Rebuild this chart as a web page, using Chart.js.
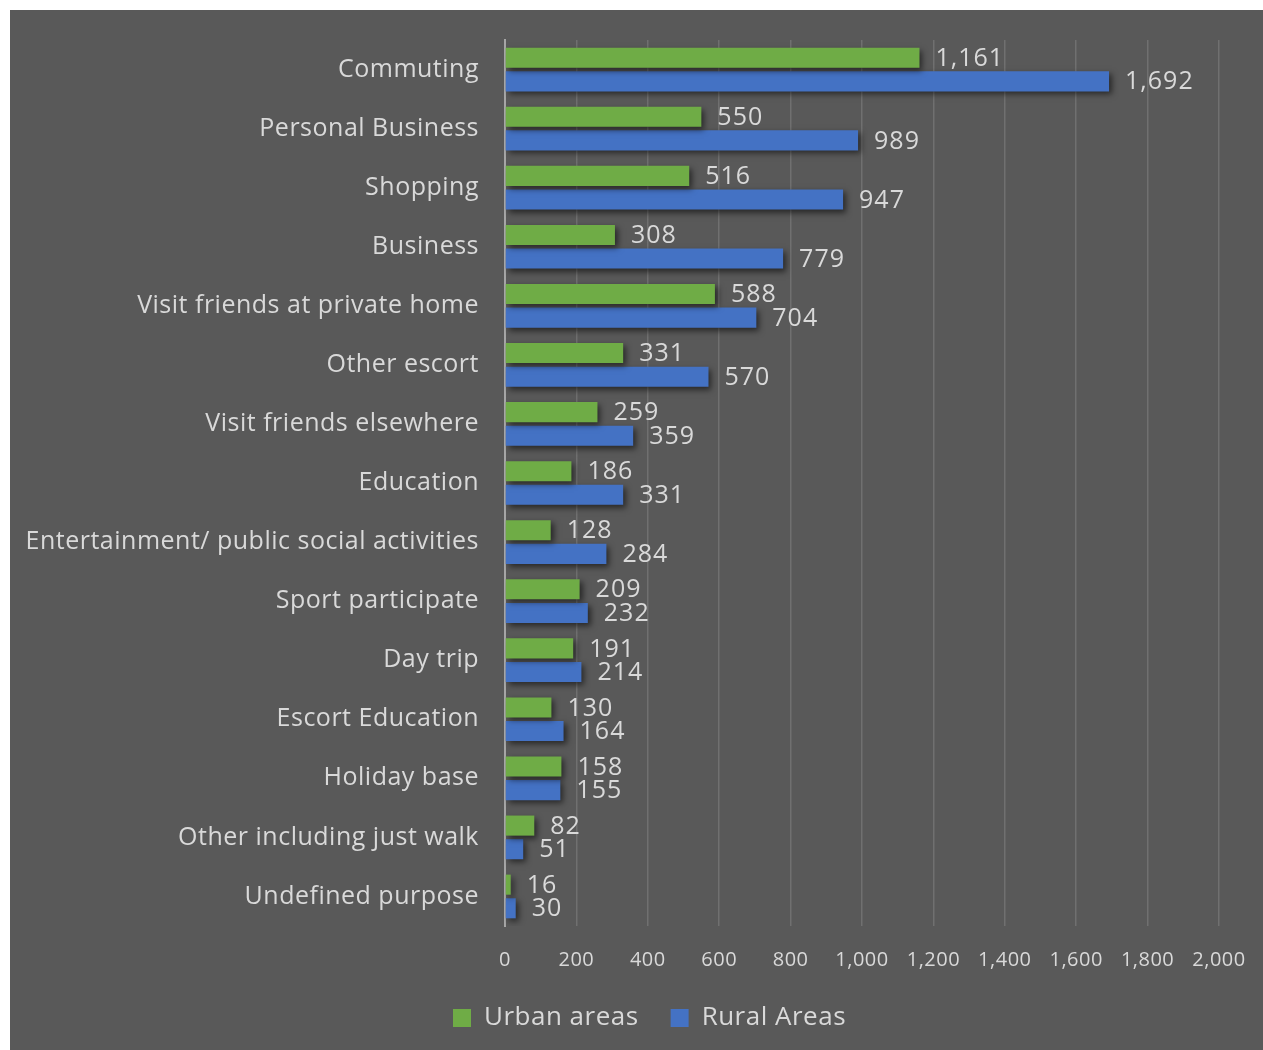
<!DOCTYPE html>
<html lang="en">
<head>
    <meta charset="UTF-8">
    <title>Trips by Purpose: Urban vs Rural</title>
    <style>
        body {
            margin: 0;
            padding: 0;
            background-color: #ffffff;
        }

        .chart-container {
            position: absolute;
            left: 10px;
            top: 10px;
            width: 1253px;
            height: 1040px;
            background-color: #595959;
        }
    </style>
    <script src="https://cdn.jsdelivr.net/npm/chart.js"></script>
</head>
<body>
    <div class="chart-container">
        <canvas id="purposeChart"></canvas>
    </div>
    <script>
        const purposes = [
            'Commuting',
            'Personal Business',
            'Shopping',
            'Business',
            'Visit friends at private home',
            'Other escort',
            'Visit friends elsewhere',
            'Education',
            'Entertainment/ public social activities',
            'Sport participate',
            'Day trip',
            'Escort Education',
            'Holiday base',
            'Other including just walk',
            'Undefined purpose'
        ];
        const urbanTrips = [1161, 550, 516, 308, 588, 331, 259, 186, 128, 209, 191, 130, 158, 82, 16];
        const ruralTrips = [1692, 989, 947, 779, 704, 570, 359, 331, 284, 232, 214, 164, 155, 51, 30];
        const axisMax = 2000;
        const axisStep = 200;

        const textColor = '#d9d9d9';
        const fontFamily = '"Open Sans", "Noto Sans", sans-serif';

        // slightly looser tracking for every text drawn on the canvas
        const wideText = {
            id: 'wideText',
            beforeLayout(chart) { chart.ctx.letterSpacing = '0.5px'; },
            beforeDraw(chart) { chart.ctx.letterSpacing = '0.5px'; }
        };

        // nudge the legend row a bit to the right of the canvas centre
        const legendShift = {
            id: 'legendShift',
            afterLayout(chart) {
                if (chart.legend) chart.legend.left += 70;
            }
        };

        // soft drop shadow under the bars
        const barShadow = {
            id: 'barShadow',
            beforeDatasetsDraw(chart) {
                const ctx = chart.ctx;
                ctx.save();
                ctx.shadowColor = 'rgba(0, 0, 0, 0.55)';
                ctx.shadowBlur = 6;
                ctx.shadowOffsetX = 3;
                ctx.shadowOffsetY = 3;
            },
            afterDatasetsDraw(chart) {
                chart.ctx.restore();
            }
        };

        // value printed just past the end of each bar
        const valueLabels = {
            id: 'valueLabels',
            afterDraw(chart) {
                const ctx = chart.ctx;
                ctx.save();
                ctx.font = '25px ' + fontFamily;
                ctx.letterSpacing = '1px';
                ctx.fillStyle = textColor;
                ctx.textAlign = 'left';
                ctx.textBaseline = 'middle';
                chart.data.datasets.forEach((ds, i) => {
                    chart.getDatasetMeta(i).data.forEach((bar, j) => {
                        ctx.fillText(ds.data[j].toLocaleString('en-US'), bar.x + 16, bar.y + 1);
                    });
                });
                ctx.restore();
            }
        };

        new Chart(document.getElementById('purposeChart'), {
            type: 'bar',
            data: {
                labels: purposes,
                datasets: [
                    {
                        label: 'Urban areas',
                        data: urbanTrips,
                        backgroundColor: '#6fac46',
                        categoryPercentage: 0.8,
                        barPercentage: 0.85
                    },
                    {
                        label: 'Rural Areas',
                        data: ruralTrips,
                        backgroundColor: '#4472c4',
                        categoryPercentage: 0.8,
                        barPercentage: 0.85
                    }
                ]
            },
            options: {
                indexAxis: 'y',
                responsive: true,
                maintainAspectRatio: false,
                animation: false,
                layout: {
                    padding: { top: 30, right: 44, bottom: 9, left: 0 }
                },
                scales: {
                    x: {
                        min: 0,
                        max: axisMax,
                        ticks: {
                            stepSize: axisStep,
                            color: textColor,
                            padding: 22,
                            font: { family: fontFamily, size: 20 },
                            callback: v => v.toLocaleString('en-US')
                        },
                        grid: {
                            color: '#707070',
                            lineWidth: 1.5,
                            drawTicks: false
                        },
                        border: { display: false },
                        afterFit(scale) {
                            scale.height = 47;
                            scale.paddingLeft = 0;
                            scale.paddingRight = 0;
                        }
                    },
                    y: {
                        ticks: {
                            color: textColor,
                            padding: 26,
                            font: { family: fontFamily, size: 25 }
                        },
                        grid: { display: false, drawTicks: false },
                        border: { display: true, color: '#a6a6a6', width: 2 },
                        afterFit(scale) {
                            scale.width = 495;
                            scale.paddingTop = 0;
                            scale.paddingBottom = 0;
                        }
                    }
                },
                plugins: {
                    legend: {
                        position: 'bottom',
                        labels: {
                            color: textColor,
                            boxWidth: 18,
                            boxHeight: 18,
                            padding: 32,
                            font: { family: fontFamily, size: 26 }
                        }
                    },
                    tooltip: { enabled: false }
                }
            },
            plugins: [wideText, legendShift, barShadow, valueLabels]
        });
    </script>
</body>
</html>
